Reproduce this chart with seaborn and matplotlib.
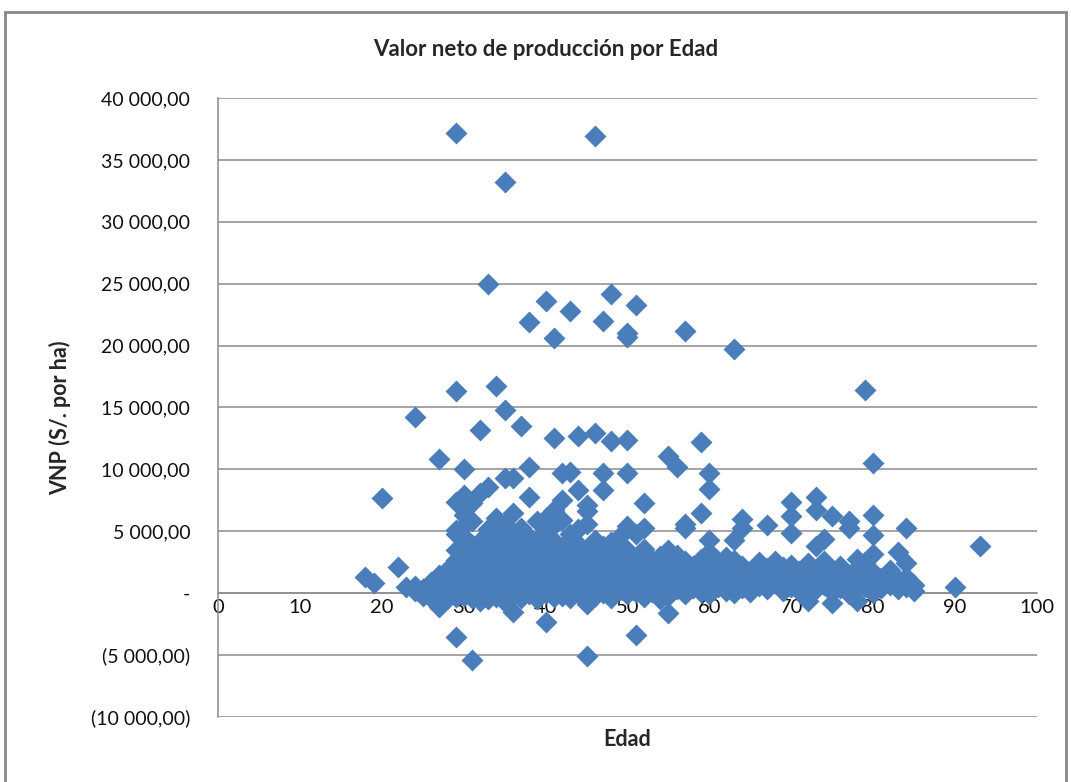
import matplotlib
matplotlib.use("Agg")
import matplotlib.pyplot as plt
from matplotlib.patches import Rectangle
from matplotlib.ticker import FuncFormatter, MultipleLocator
import seaborn as sns
import pandas as pd

# ---- data: outliers / clearly separated points ----
edad_alto = [29, 46, 35, 33, 40, 48, 43, 51, 38, 47, 41, 50, 50, 57, 63,
             29, 34, 79, 24, 35, 32, 37, 41, 44, 46, 48, 50, 59, 27, 30,
             38, 55, 56, 60, 60, 80, 20, 35, 36, 38, 36, 42, 43, 47, 50,
             44, 47, 45, 45, 42, 41, 29, 30, 29, 30, 33, 22, 18, 19, 23,
             25, 27, 29, 31, 29, 52, 59, 57, 57, 52, 64, 64, 67, 63, 60,
             62, 55, 55, 51, 73, 70, 70, 73, 75, 77, 77, 80, 84, 80, 74,
             73, 80, 83, 78, 84, 75, 78, 72, 90, 93, 36, 45, 40, 45]
vnp_alto = [37200, 36900, 33200, 25000, 23600, 24200, 22800, 23300, 21900, 22000,
            20600, 21000, 20700, 21200, 19700, 16300, 16700, 16400, 14200, 14800,
            13200, 13500, 12500, 12700, 12900, 12300, 12400, 12200, 10800, 10000,
            10200, 11100, 10200, 9700, 8400, 10500, 7700, 9300, 9300, 7800,
            6500, 9700, 9800, 9700, 9700, 8300, 8300, 7100, 6600, 7500,
            6700, 7400, 7900, 5100, 5500, 8600, 2100, 1300, 800, 500,
            300, -1100, -3500, -5400, 2700, 7300, 6500, 5600, 5300, 5300,
            6000, 5300, 5500, 4300, 4300, 2900, 3500, -1600, -3400, 7800,
            7400, 6200, 6700, 6200, 5800, 5300, 6300, 5300, 4700, 4400,
            3800, 3200, 3300, 2800, 2400, -800, -600, -600, 500, 3800,
            -1500, -5100, -2300, -900]

# ---- data: dense band of points ----
banda = {
    24: [600, 200], 25: [300, -200], 26: [900, 100, -400],
    27: [1500, 400, -800], 28: [1900, 800, 200, -500],
    29: [4800, 3500, 1800, 900, 300, -300],
    30: [6300, 4500, 3200, 2100, 1200, 400, -200],
    31: [7300, 5800, 3900, 2500, 1500, 700, 100, -400],
    32: [8100, 4200, 3000, 1900, 1000, 300, -600],
    33: [5200, 3700, 2600, 1400, 600, -100, -500],
    34: [6100, 4600, 3300, 2200, 1100, 400, -300],
    35: [5600, 4000, 2900, 1700, 800, 100, -700],
    36: [4800, 3400, 2300, 1300, 500, -200],
    37: [5300, 4100, 2800, 1800, 900, 200, -400],
    38: [4500, 3600, 2500, 1500, 600, -100],
    39: [5800, 4300, 3100, 2000, 1000, 300, -500],
    40: [6100, 5000, 3900, 2700, 1600, 700, 0],
    41: [5500, 4200, 3000, 1900, 900, 200, -300],
    42: [5900, 3700, 2500, 1400, 500, -200],
    43: [4800, 3300, 2200, 1100, 400, -400],
    44: [5200, 4000, 2800, 1700, 800, 100],
    45: [5600, 3600, 2400, 1300, 600, -300, -700],
    46: [4300, 3100, 2000, 1000, 300, -200],
    47: [3800, 2700, 1600, 700, 0],
    48: [4100, 3000, 1900, 900, 200, -400],
    49: [4500, 3200, 2100, 1200, 400],
    50: [5400, 3500, 2400, 1500, 600, -100],
    51: [4800, 2900, 1700, 800, 100],
    52: [3600, 2500, 1400, 500, -300],
    53: [2700, 1600, 700, 100],
    54: [3000, 1900, 900, 200, -500],
    55: [2500, 1300, 500, -200],
    56: [3100, 2000, 1000, 300],
    57: [2600, 1500, 600, -100],
    58: [2200, 1200, 400],
    59: [2800, 1800, 800, 100],
    60: [3300, 2100, 1100, 300, -100],
    61: [2400, 1400, 500], 62: [1900, 900, 200],
    63: [2700, 1600, 700, 0], 64: [2200, 1200, 400],
    65: [1700, 800, 100], 66: [2500, 1500, 600],
    67: [2000, 1000, 300], 68: [2600, 1700, 800],
    69: [2100, 1100, 200], 70: [4900, 2300, 1300, 500],
    71: [1800, 900, 200], 72: [2400, 1400, 600, -200],
    73: [1900, 1000, 300], 74: [2600, 1600, 700],
    75: [1800, 900, 100], 76: [2200, 1200, 400],
    77: [1500, 600, -100], 78: [2000, 1100, 300],
    79: [2500, 1400, 500], 80: [1700, 800, 0],
    81: [1200, 400], 82: [1900, 700], 83: [1100, 300],
    84: [1300, 500], 85: [700, 200],
}

x_ticks = [0, 10, 20, 30, 40, 50, 60, 70, 80, 90, 100]
titulo = "Valor neto de producción por Edad"
etiqueta_x = "Edad"
etiqueta_y = "VNP (S/. por ha)"

edad = list(edad_alto)
vnp = list(vnp_alto)
for a, vals in banda.items():
    for v in vals:
        edad.append(a)
        vnp.append(v)
df = pd.DataFrame({"Edad": edad, "VNP": vnp})

sns.set_style("white")
plt.rcParams["font.family"] = ["Lato", "DejaVu Sans"]

W, H = 1071, 782
fig = plt.figure(figsize=(W / 100, H / 100), dpi=100)
ax = fig.add_axes([218 / W, 1 - 717 / H, (1037 - 218) / W, (717 - 98) / H])

sns.scatterplot(data=df, x="Edad", y="VNP", marker="D", s=125,
                color="#4A7EBB", linewidth=0, ax=ax, zorder=3, clip_on=False)

grid_c = "#8C8C8C"
ax.set_xlim(0, 100)
ax.set_ylim(-10000, 40000)
ax.yaxis.set_major_locator(MultipleLocator(5000))
ax.set_xticks(x_ticks)
ax.grid(axis="y", color=grid_c, linewidth=1.1, zorder=0)
ax.grid(axis="x", visible=False)
for s in ["top", "right"]:
    ax.spines[s].set_visible(False)
ax.spines["left"].set_color(grid_c)
ax.spines["left"].set_linewidth(1.1)
ax.spines["bottom"].set_position(("data", 0))
ax.spines["bottom"].set_color(grid_c)
ax.spines["bottom"].set_linewidth(1.1)


def fmt(v, pos):
    if abs(v) < 1e-6:
        return "-"
    s = f"{abs(v):,.2f}".replace(",", " ").replace(".", ",")
    return f"({s})" if v < 0 else s


ax.yaxis.set_major_formatter(FuncFormatter(fmt))
ax.tick_params(axis="y", length=0, pad=20, labelsize=14, labelcolor="#111111")
ax.tick_params(axis="x", length=0, pad=4, labelsize=14.5, labelcolor="#111111")
ax.set_xlabel("")
ax.set_ylabel("")

fig.text(546 / W, 1 - 50 / H, titulo, ha="center", va="center",
         fontsize=16, fontweight="bold")
fig.text(627 / W, 1 - 740 / H, etiqueta_x, ha="center", va="center",
         fontsize=15.5, fontweight="bold")
fig.text(60 / W, 1 - 418 / H, etiqueta_y, ha="center", va="center",
         rotation=90, fontsize=15.5, fontweight="bold")

fig.patches.append(Rectangle((5 / W, -0.02), (1066 - 5) / W, 1 - 12 / H + 0.02,
                             transform=fig.transFigure, fill=False,
                             edgecolor="#888888", linewidth=2))

fig.savefig("out.png", dpi=100)
